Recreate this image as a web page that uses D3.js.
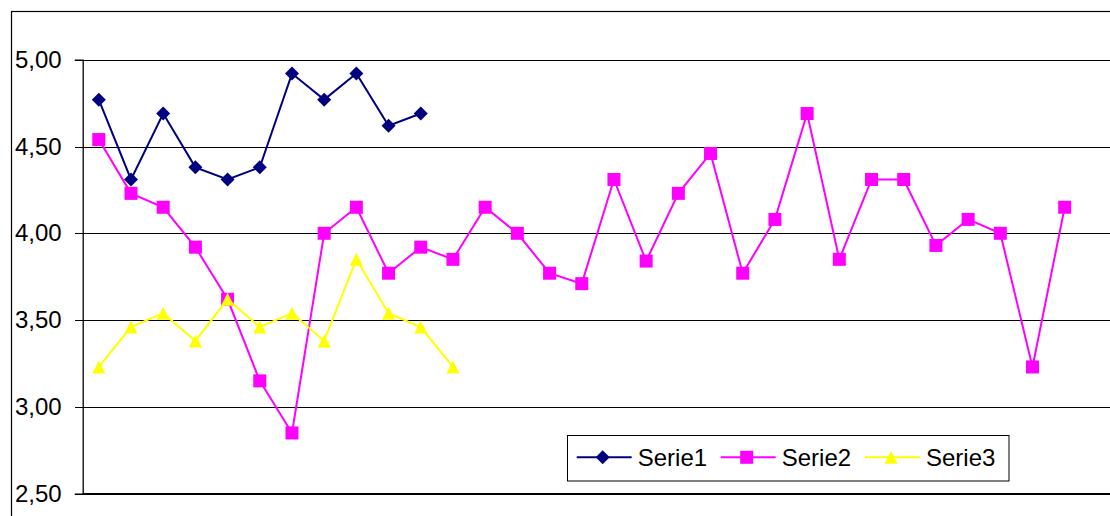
<!DOCTYPE html>
<html>
<head>
<meta charset="utf-8">
<script src="https://cdn.jsdelivr.net/npm/d3@7"></script>
<style>
  html, body { margin: 0; padding: 0; background: #fff; }
  svg { display: block; }
  text { font-family: "Liberation Sans", Arial, sans-serif; }
</style>
</head>
<body>
<svg id="chart" width="1110" height="516"></svg>
<script>
// ---- data ----
const categories = d3.range(1, 33).map(String);
const serie1 = [4.77, 4.31, 4.69, 4.38, 4.31, 4.38, 4.92, 4.77, 4.92, 4.62, 4.69];
const serie2 = [4.54, 4.23, 4.15, 3.92, 3.62, 3.15, 2.85, 4.00, 4.15, 3.77, 3.92, 3.85,
                4.15, 4.00, 3.77, 3.71, 4.31, 3.84, 4.23, 4.46, 3.77, 4.08, 4.69, 3.85,
                4.31, 4.31, 3.93, 4.08, 4.00, 3.23, 4.15];
const serie3 = [3.23, 3.46, 3.54, 3.38, 3.62, 3.46, 3.54, 3.38, 3.85, 3.54, 3.46, 3.23];
const seriesNames = ["Serie1", "Serie2", "Serie3"];
const yTicks = [2.5, 3.0, 3.5, 4.0, 4.5, 5.0];

// ---- layout ----
const svg = d3.select("#chart");
const plotLeft = 82.7, plotRight = 1113, plotTop = 59.7, plotBottom = 493.7;

const x = d3.scaleBand().domain(categories).range([plotLeft, plotRight]);
const y = d3.scaleLinear().domain([2.5, 5]).range([plotBottom, plotTop]);
const cx = i => x(categories[i]) + x.bandwidth() / 2;

// outer chart border
svg.append("rect").attr("x", 11.5).attr("y", 11.5).attr("width", 1200).attr("height", 600)
  .attr("fill", "none").attr("stroke", "#000").attr("stroke-width", 1.2);

// gridlines
const grid = svg.append("g").attr("transform", `translate(${plotLeft},0)`)
  .call(d3.axisLeft(y).tickValues(yTicks).tickSize(-(plotRight - plotLeft)).tickFormat(""));
grid.select(".domain").remove();
grid.selectAll("line").attr("stroke", "#000").attr("stroke-width", 1).attr("shape-rendering", "crispEdges");

// y axis
const yAxis = svg.append("g").attr("transform", `translate(${plotLeft},0)`)
  .call(d3.axisLeft(y).tickValues(yTicks).tickSize(8).tickPadding(13)
    .tickFormat(d => d.toFixed(2).replace(".", ",")));
yAxis.select(".domain").attr("stroke", "#000").attr("stroke-width", 1.3);
yAxis.selectAll("line").attr("stroke", "#000").attr("shape-rendering", "crispEdges");
yAxis.selectAll("text").attr("font-size", 24).attr("fill", "#000")
  .attr("font-family", "'Liberation Sans', Arial, sans-serif");

// x axis line (bottom)
svg.append("line").attr("x1", plotLeft).attr("x2", plotRight)
  .attr("y1", y(2.5)).attr("y2", y(2.5)).attr("stroke", "#000").attr("stroke-width", 1.3);

// markers
const markers = {
  diamond: (g, s, c) => g.append("path").attr("d", `M0,${-s/2}L${s/2},0L0,${s/2}L${-s/2},0Z`).attr("fill", c),
  square: (g, s, c) => g.append("rect").attr("x", -s/2).attr("y", -s/2).attr("width", s).attr("height", s).attr("fill", c),
  triangle: (g, s, c) => g.append("path").attr("d", `M0,${-s/2}L${s/2},${s/2}L${-s/2},${s/2}Z`).attr("fill", c)
};

const series = [
  { name: seriesNames[0], values: serie1, color: "#000080", marker: "diamond", size: 14 },
  { name: seriesNames[1], values: serie2, color: "#FF00FF", marker: "square", size: 13 },
  { name: seriesNames[2], values: serie3, color: "#FFFF00", marker: "triangle", size: 13 }
];

const line = d3.line().x((d, i) => cx(i)).y(d => y(d));

series.forEach(s => {
  const g = svg.append("g");
  g.append("path").datum(s.values).attr("d", line)
    .attr("fill", "none").attr("stroke", s.color).attr("stroke-width", 2);
  s.values.forEach((v, i) => {
    const mg = g.append("g").attr("transform", `translate(${cx(i)},${y(v)})`);
    markers[s.marker](mg, s.size, s.color);
  });
});

// legend
const legend = svg.append("g");
legend.append("rect").attr("x", 567.5).attr("y", 435.5).attr("width", 441.5).attr("height", 45.5)
  .attr("fill", "#fff").attr("stroke", "#000").attr("stroke-width", 1);
const legX = [576.7, 720.7, 865];
const legY = 457.3;
series.forEach((s, i) => {
  const g = legend.append("g").attr("transform", `translate(${legX[i]},${legY})`);
  g.append("line").attr("x1", 0).attr("x2", 55).attr("y1", 0).attr("y2", 0)
    .attr("stroke", s.color).attr("stroke-width", 2);
  const mg = g.append("g").attr("transform", "translate(26,0)");
  markers[s.marker](mg, s.size, s.color);
  g.append("text").attr("x", 61).attr("y", 0).attr("dy", "0.36em")
    .attr("font-size", 24).attr("fill", "#000").text(s.name);
});
</script>
</body>
</html>
